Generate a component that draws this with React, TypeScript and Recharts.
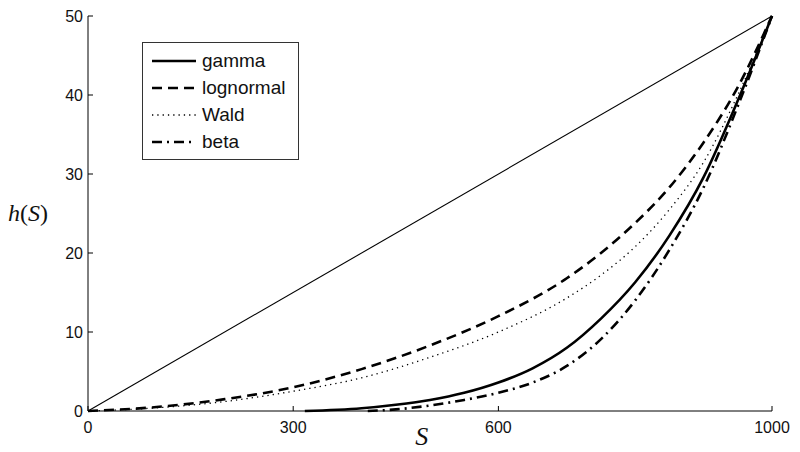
import { LineChart, Line, XAxis, YAxis, Legend, Label } from "recharts";

const xTicks = [0, 300, 600, 1000];
const yTicks = [0, 10, 20, 30, 40, 50];

// h(S) for each fitted distribution
const diagonalS = [0, 1000];
const diagonalH = [0, 50];

const gammaS = [317, 400, 450, 500, 550, 600, 650, 700, 750, 800, 850, 900, 950, 1000];
const gammaH = [0, 0.35, 0.8, 1.4, 2.3, 3.6, 5.4, 8.0, 11.7, 16.3, 22.2, 29.6, 39.3, 50];

const lognormalS = [0, 100, 200, 300, 400, 500, 600, 700, 750, 800, 850, 900, 950, 1000];
const lognormalH = [0, 0.5, 1.5, 3.0, 5.3, 8.3, 12.0, 16.8, 20.0, 23.8, 28.3, 34.0, 41.0, 50];

const waldS = [0, 100, 200, 300, 400, 500, 600, 700, 750, 800, 850, 900, 950, 1000];
const waldH = [0, 0.4, 1.2, 2.5, 4.2, 6.8, 10.0, 14.3, 17.2, 20.8, 25.5, 31.5, 40.0, 50];

const betaS = [409, 450, 500, 550, 600, 650, 700, 750, 800, 850, 900, 950, 1000];
const betaH = [0, 0.2, 0.7, 1.4, 2.3, 3.6, 5.7, 9.1, 14.0, 20.4, 28.3, 38.6, 50];

const toRows = (s: number[], h: number[]) => s.map((S, i) => ({ S, h: h[i] }));

interface SeriesDef {
  name: string;
  rows: { S: number; h: number }[];
  width: number;
  dash?: string;
}

const series: SeriesDef[] = [
  { name: "gamma", rows: toRows(gammaS, gammaH), width: 2.6 },
  { name: "lognormal", rows: toRows(lognormalS, lognormalH), width: 2.6, dash: "10 6" },
  { name: "Wald", rows: toRows(waldS, waldH), width: 1.3, dash: "1.3 4" },
  { name: "beta", rows: toRows(betaS, betaH), width: 2.6, dash: "10 5 2 5" },
];

const tickFont = { fontSize: 16, fill: "#111", fontFamily: "'Liberation Sans', Arial, sans-serif" };
const mathFont = "'Liberation Serif', 'Times New Roman', serif";

function LegendBox() {
  return (
    <div
      style={{
        border: "1px solid #333",
        background: "#fff",
        padding: "4px 10px 4px 8px",
        width: 137,
        fontFamily: "'Liberation Sans', Arial, sans-serif",
        fontSize: 19,
        color: "#111",
      }}
    >
      {series.map((s) => (
        <div key={s.name} style={{ display: "flex", alignItems: "center", height: 27 }}>
          <svg width={46} height={10} style={{ marginRight: 5 }}>
            <line
              x1={1}
              y1={5}
              x2={45}
              y2={5}
              stroke="#000"
              strokeWidth={s.width}
              strokeDasharray={s.dash}
            />
          </svg>
          <span>{s.name}</span>
        </div>
      ))}
    </div>
  );
}

export default function App() {
  return (
    <div style={{ position: "absolute", left: 0, top: 0, background: "#fff" }}>
      <LineChart width={800} height={452} margin={{ top: 16, right: 28, left: 0, bottom: 0 }}>
        <XAxis
          xAxisId={0}
          dataKey="S"
          type="number"
          domain={[0, 1000]}
          ticks={xTicks}
          height={41}
          tickSize={-5}
          tickMargin={16}
          tick={tickFont}
          stroke="#000"
          allowDuplicatedCategory={false}
        >
          <Label
            content={({ viewBox }: any) => (
              <text
                x={viewBox.x + viewBox.width * 0.488}
                y={viewBox.y + 34}
                textAnchor="middle"
                fontFamily={mathFont}
                fontStyle="italic"
                fontSize={26}
                fill="#111"
              >
                S
              </text>
            )}
          />
        </XAxis>
        <XAxis
          xAxisId="top"
          orientation="top"
          type="number"
          domain={[0, 1000]}
          ticks={xTicks}
          height={0}
          tickSize={-5}
          tickFormatter={() => ""}
          stroke="#000"
        />
        <YAxis
          yAxisId={0}
          type="number"
          domain={[0, 50]}
          ticks={yTicks}
          width={88}
          tickSize={-5}
          tickMargin={10}
          tick={tickFont}
          stroke="#000"
        >
          <Label
            content={({ viewBox }: any) => (
              <text
                x={viewBox.x + 28}
                y={viewBox.y + viewBox.height / 2 + 7}
                textAnchor="middle"
                fontFamily={mathFont}
                fontSize={24}
                fill="#111"
              >
                <tspan fontStyle="italic">h</tspan>
                <tspan>(</tspan>
                <tspan fontStyle="italic">S</tspan>
                <tspan>)</tspan>
              </text>
            )}
          />
        </YAxis>
        <YAxis
          yAxisId="right"
          orientation="right"
          type="number"
          domain={[0, 50]}
          ticks={yTicks}
          width={0}
          tickSize={-5}
          tickFormatter={() => ""}
          stroke="#000"
        />
        <Legend
          layout="horizontal"
          verticalAlign="middle"
          align="center"
          content={() => <LegendBox />}
          wrapperStyle={{ left: 142, top: 42, width: "auto", height: "auto" }}
        />
        <Line
          data={toRows(diagonalS, diagonalH)}
          dataKey="h"
          type="linear"
          stroke="#000"
          strokeWidth={1.1}
          dot={false}
          legendType="none"
          isAnimationActive={false}
        />
        {series.map((s) => (
          <Line
            key={s.name}
            data={s.rows}
            dataKey="h"
            name={s.name}
            type="monotone"
            stroke="#000"
            strokeWidth={s.width}
            strokeDasharray={s.dash}
            dot={false}
            isAnimationActive={false}
          />
        ))}
      </LineChart>
    </div>
  );
}
